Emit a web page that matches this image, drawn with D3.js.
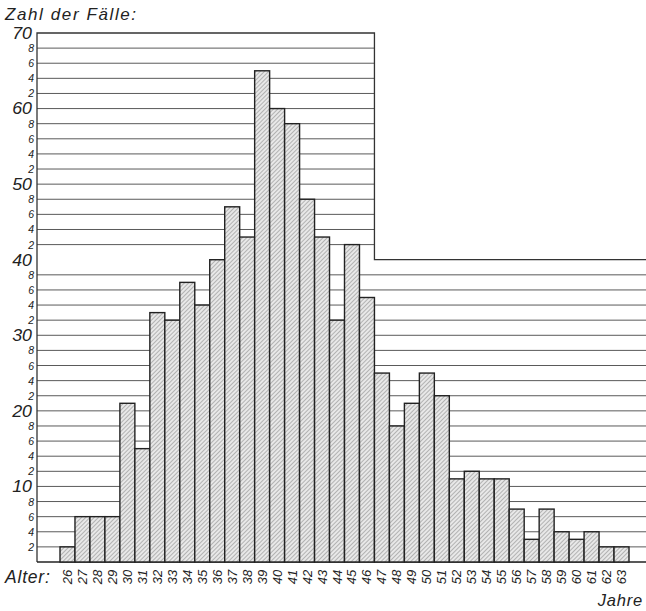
<!DOCTYPE html>
<html><head><meta charset="utf-8">
<script src="https://cdn.jsdelivr.net/npm/d3@7"></script>
<style>
html,body{margin:0;padding:0;background:#fff;}
text{font-family:"Liberation Sans","DejaVu Sans",sans-serif;font-style:italic;fill:#222;}
</style></head>
<body>
<svg id="c" width="646" height="611"></svg>
<script>
const ages = [26,27,28,29,30,31,32,33,34,35,36,37,38,39,40,41,42,43,44,45,46,47,48,49,50,51,52,53,54,55,56,57,58,59,60,61,62,63];
const counts = [2,6,6,6,21,15,33,32,37,34,40,47,43,65,60,58,48,43,32,42,35,25,18,21,25,22,11,12,11,11,7,3,7,4,3,4,2,2];
const yTicks = d3.range(2, 71, 2);
const yMax = 70;
const stepAge = 46;     // upper frame steps down after this age
const stepLevel = 40;   // level of the lower frame
const titleY = "Zahl der Fälle:";
const labelX = "Alter:";
const unitX = "Jahre";

const svg = d3.select("#c");
const x = d3.scaleBand().domain(ages).range([60, 629]).padding(0);
const y = d3.scaleLinear().domain([0, yMax]).range([562, 33]);
const axisX = 37, rightX = 646;
const stepX = x(stepAge) + x.bandwidth();

const defs = svg.append("defs");
const pat = defs.append("pattern").attr("id","hatch").attr("patternUnits","userSpaceOnUse")
  .attr("width",3).attr("height",3).attr("patternTransform","rotate(45)");
pat.append("rect").attr("width",3).attr("height",3).attr("fill","#e8e8e8");
pat.append("line").attr("x1",0).attr("y1",0).attr("x2",0).attr("y2",3)
  .attr("stroke","#707070").attr("stroke-width",0.9);

// grid lines
svg.append("g").selectAll("line").data(yTicks.filter(v => v < yMax && v !== stepLevel)).join("line")
  .attr("x1", axisX).attr("x2", d => d > stepLevel ? stepX : rightX)
  .attr("y1", d => y(d)).attr("y2", d => y(d))
  .attr("stroke","#5a5a5a").attr("stroke-width",1);

// frame
svg.append("path")
  .attr("d", `M${axisX},${y(0)}V${y(yMax)}H${stepX}V${y(stepLevel)}H${rightX}`)
  .attr("fill","none").attr("stroke","#333").attr("stroke-width",1.3);
svg.append("line").attr("x1",axisX).attr("x2",rightX).attr("y1",y(0)).attr("y2",y(0))
  .attr("stroke","#222").attr("stroke-width",1.6);

// bars
svg.append("g").selectAll("rect").data(ages).join("rect")
  .attr("x", d => x(d)).attr("width", x.bandwidth())
  .attr("y", (d,i) => y(counts[i])).attr("height", (d,i) => y(0) - y(counts[i]))
  .attr("fill","url(#hatch)").attr("stroke","#222").attr("stroke-width",1.4);

// y labels
svg.append("g").selectAll("text").data(yTicks).join("text")
  .attr("x", d => d % 10 === 0 ? 32 : 34)
  .attr("y", d => y(d))
  .attr("text-anchor","end").attr("dominant-baseline","central")
  .attr("font-size", d => d % 10 === 0 ? 15.5 : 10.5)
  .attr("transform", d => d % 10 === 0 ? `translate(32,${y(d)}) scale(1.15,1.12) translate(-32,${-y(d)})` : null)
  .text(d => d % 10 === 0 ? d : d % 10);

// x labels
svg.append("g").selectAll("text").data(ages).join("text")
  .attr("transform", d => `translate(${x(d) + x.bandwidth()/2},577) rotate(-90)`)
  .attr("text-anchor","middle").attr("dominant-baseline","central")
  .attr("font-size",13).text(d => d);

svg.append("text").attr("x",5).attr("y",20).attr("font-size",17).attr("letter-spacing",1.6).text(titleY);
svg.append("text").attr("x",5).attr("y",583).attr("font-size",17.5).attr("letter-spacing",0.8).text(labelX);
svg.append("text").attr("x",643).attr("y",606).attr("text-anchor","end").attr("font-size",16.5).attr("letter-spacing",0.8).text(unitX);
</script>
</body></html>
